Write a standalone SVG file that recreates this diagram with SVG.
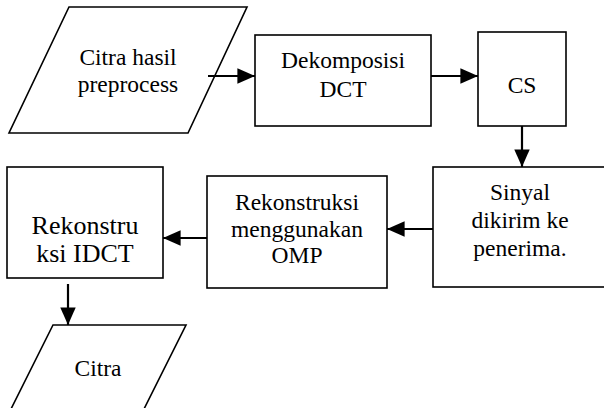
<svg xmlns="http://www.w3.org/2000/svg" width="604" height="408" viewBox="0 0 604 408" font-family="'Liberation Serif', 'Times New Roman', serif">
<style>
.shape{fill:#fff;stroke:#000;stroke-width:1.6}
text{font-size:23.5px;fill:#000;text-anchor:middle}
text.big{font-size:26px}
.conn line{stroke:#000;stroke-width:2.2}
</style>
<defs>
<marker id="ah" markerWidth="8" markerHeight="7" refX="8" refY="3.5" orient="auto" markerUnits="strokeWidth">
<path d="M0,0 L8,3.5 L0,7 Z" fill="#000"/>
</marker>
</defs>
<rect width="604" height="408" fill="#fff"/>
<g id="n1">
<polygon class="shape" points="69,7 247,7 188,133 9,133"/>
<text x="128" y="65">Citra hasil</text>
<text x="128" y="92">preprocess</text>
</g>
<g id="n2">
<rect class="shape" x="255" y="35" width="176" height="91"/>
<text x="343" y="68">Dekomposisi</text>
<text x="343" y="97">DCT</text>
</g>
<g id="n3">
<rect class="shape" x="478" y="32" width="88" height="94"/>
<text x="522" y="93">CS</text>
</g>
<g id="n4">
<rect class="shape" x="433" y="167" width="175" height="120"/>
<text x="520" y="200">Sinyal</text>
<text x="520" y="228">dikirim ke</text>
<text x="520" y="256">penerima.</text>
</g>
<g id="n5">
<rect class="shape" x="207" y="176" width="180" height="112"/>
<text x="297" y="210">Rekonstruksi</text>
<text x="297" y="237">menggunakan</text>
<text x="297" y="263">OMP</text>
</g>
<g id="n6">
<rect class="shape" x="7" y="167" width="156" height="111"/>
<text class="big" x="85" y="234">Rekonstru</text>
<text class="big" x="85" y="262">ksi IDCT</text>
</g>
<g id="n7">
<polygon class="shape" points="53,325 186,325 136,425 3,425"/>
<text x="98" y="376">Citra</text>
</g>
<g id="connectors" class="conn">
<line x1="208" y1="76" x2="255" y2="76" marker-end="url(#ah)"/>
<line x1="431" y1="76" x2="478" y2="76" marker-end="url(#ah)"/>
<line x1="522" y1="126" x2="522" y2="167" marker-end="url(#ah)"/>
<line x1="433" y1="229" x2="387" y2="229" marker-end="url(#ah)"/>
<line x1="207" y1="238" x2="163" y2="238" marker-end="url(#ah)"/>
<line x1="68" y1="284" x2="68" y2="325" marker-end="url(#ah)"/>
</g>
</svg>
